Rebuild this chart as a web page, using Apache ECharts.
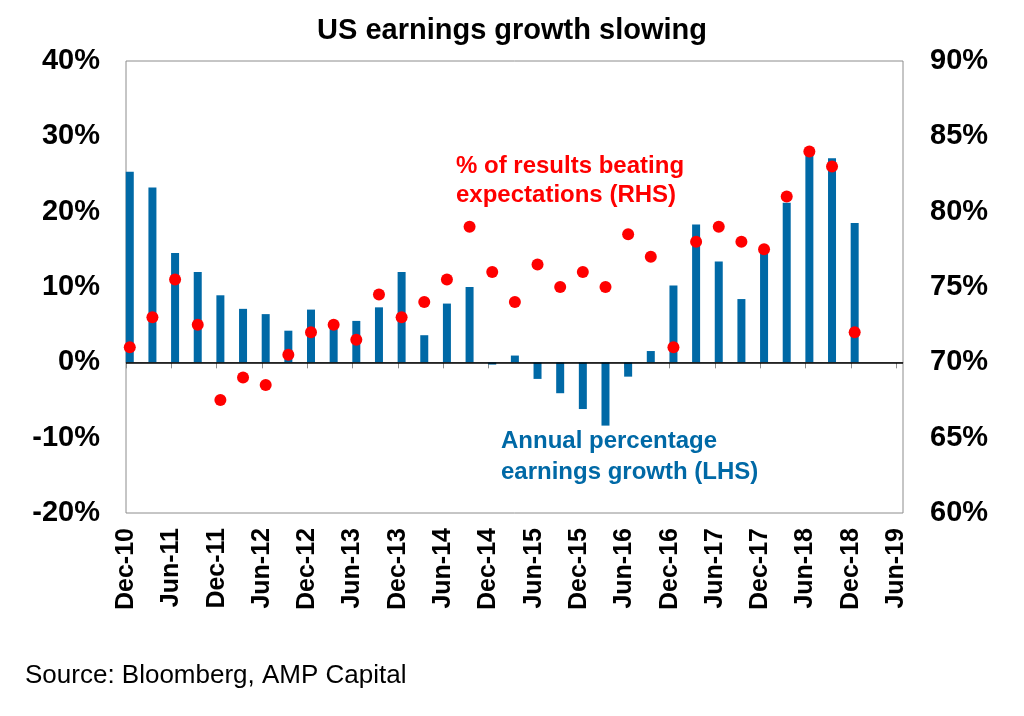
<!DOCTYPE html>
<html>
<head>
<meta charset="utf-8">
<title>US earnings growth slowing</title>
<script src="https://cdn.jsdelivr.net/npm/echarts@6/dist/echarts.min.js"></script>
<style>
  * { margin: 0; padding: 0 }
  html, body { width: 100%; height: 100%; background: #fff; }
  #main { width: 1024px; height: 716px; }
</style>
</head>
<body>
<div id="main"></div>
<script>
// quarterly observations, Dec-10 .. Dec-18
var quarters = ['Dec-10','Mar-11','Jun-11','Sep-11','Dec-11','Mar-12','Jun-12','Sep-12',
  'Dec-12','Mar-13','Jun-13','Sep-13','Dec-13','Mar-14','Jun-14','Sep-14',
  'Dec-14','Mar-15','Jun-15','Sep-15','Dec-15','Mar-16','Jun-16','Sep-16',
  'Dec-16','Mar-17','Jun-17','Sep-17','Dec-17','Mar-18','Jun-18','Sep-18','Dec-18'];

// annual percentage earnings growth (LHS, %)
var growth = [25.3, 23.2, 14.5, 12.0, 8.9, 7.1, 6.4, 4.2,
  7.0, 5.3, 5.5, 7.3, 12.0, 3.6, 7.8, 10.0,
  -0.3, 0.9, -2.2, -4.1, -6.2, -8.4, -1.9, 1.5,
  10.2, 18.3, 13.4, 8.4, 15.0, 21.2, 28.0, 27.1, 18.5];

// % of results beating expectations (RHS, %)
var beating = [71.0, 73.0, 75.5, 72.5, 67.5, 69.0, 68.5, 70.5,
  72.0, 72.5, 71.5, 74.5, 73.0, 74.0, 75.5, 79.0,
  76.0, 74.0, 76.5, 75.0, 76.0, 75.0, 78.5, 77.0,
  71.0, 78.0, 79.0, 78.0, 77.5, 81.0, 84.0, 83.0, 72.0];

// half-yearly axis labels
var tickLabels = ['Dec-10','Jun-11','Dec-11','Jun-12','Dec-12','Jun-13','Dec-13','Jun-14',
  'Dec-14','Jun-15','Dec-15','Jun-16','Dec-16','Jun-17','Dec-17','Jun-18','Dec-18','Jun-19'];

var blue = '#0069a6';
var red = '#ff0000';
var font = 'Liberation Sans, Arial, sans-serif';

// x in months after the Dec-10 tick (observations sit mid-month)
function toX(i) { return i * 3 + 0.5; }
var barData = growth.map(function (v, i) { return [toX(i), v]; });
var dotData = beating.map(function (v, i) { return [toX(i), v]; });

var chart = echarts.init(document.getElementById('main'));
chart.setOption({
  animation: false,
  grid: {
    left: 126, right: 121, top: 61, bottom: 203,
    show: true, borderColor: '#8c8c8c', borderWidth: 1
  },
  xAxis: {
    type: 'value',
    min: 0, max: 102.9, interval: 6,
    splitLine: { show: false },
    axisLine: { show: true, lineStyle: { color: '#8c8c8c' } },
    axisTick: { show: true, length: 6, lineStyle: { color: '#8c8c8c' } },
    axisLabel: {
      rotate: 90, margin: 15,
      showMaxLabel: false,
      color: '#000', fontFamily: font, fontWeight: 'bold', fontSize: 25,
      formatter: function (v) {
        var k = v / 6;
        return Math.abs(k - Math.round(k)) < 1e-6 ? (tickLabels[Math.round(k)] || '') : '';
      }
    }
  },
  yAxis: [{
    type: 'value', min: -20, max: 40, interval: 10,
    splitLine: { show: false },
    axisLine: { show: false }, axisTick: { show: false },
    axisLabel: { formatter: '{value}%', margin: 26, color: '#000',
      fontFamily: font, fontWeight: 'bold', fontSize: 29 }
  }, {
    type: 'value', min: 60, max: 90, interval: 5,
    splitLine: { show: false },
    axisLine: { show: false }, axisTick: { show: false },
    axisLabel: { formatter: '{value}%', margin: 27, color: '#000',
      fontFamily: font, fontWeight: 'bold', fontSize: 29 }
  }],
  series: [{
    name: 'Annual percentage earnings growth (LHS)',
    type: 'bar',
    data: barData,
    barWidth: 8,
    itemStyle: { color: blue },
    markLine: {
      silent: true, symbol: 'none',
      label: { show: false },
      lineStyle: { color: '#000', width: 1.5, type: 'solid' },
      data: [{ yAxis: 0 }]
    }
  }, {
    name: '% of results beating expectations (RHS)',
    type: 'scatter',
    yAxisIndex: 1,
    data: dotData,
    symbolSize: 12,
    itemStyle: { color: red, opacity: 1 },
    z: 5
  }],
  graphic: [{
    type: 'text', left: 'center', top: 16,
    style: { text: 'US earnings growth slowing', fill: '#000',
      font: 'bold 29px ' + font }
  }, {
    type: 'text', left: 456, top: 152,
    style: { text: '% of results beating\nexpectations (RHS)', fill: red,
      font: 'bold 24px ' + font, lineHeight: 29 }
  }, {
    type: 'text', left: 501, top: 426,
    style: { text: 'Annual percentage\nearnings growth (LHS)', fill: blue,
      font: 'bold 24px ' + font, lineHeight: 31 }
  }, {
    type: 'text', left: 25, top: 663,
    style: { text: 'Source: Bloomberg, AMP Capital', fill: '#000',
      font: '26px ' + font }
  }]
});
</script>
</body>
</html>
